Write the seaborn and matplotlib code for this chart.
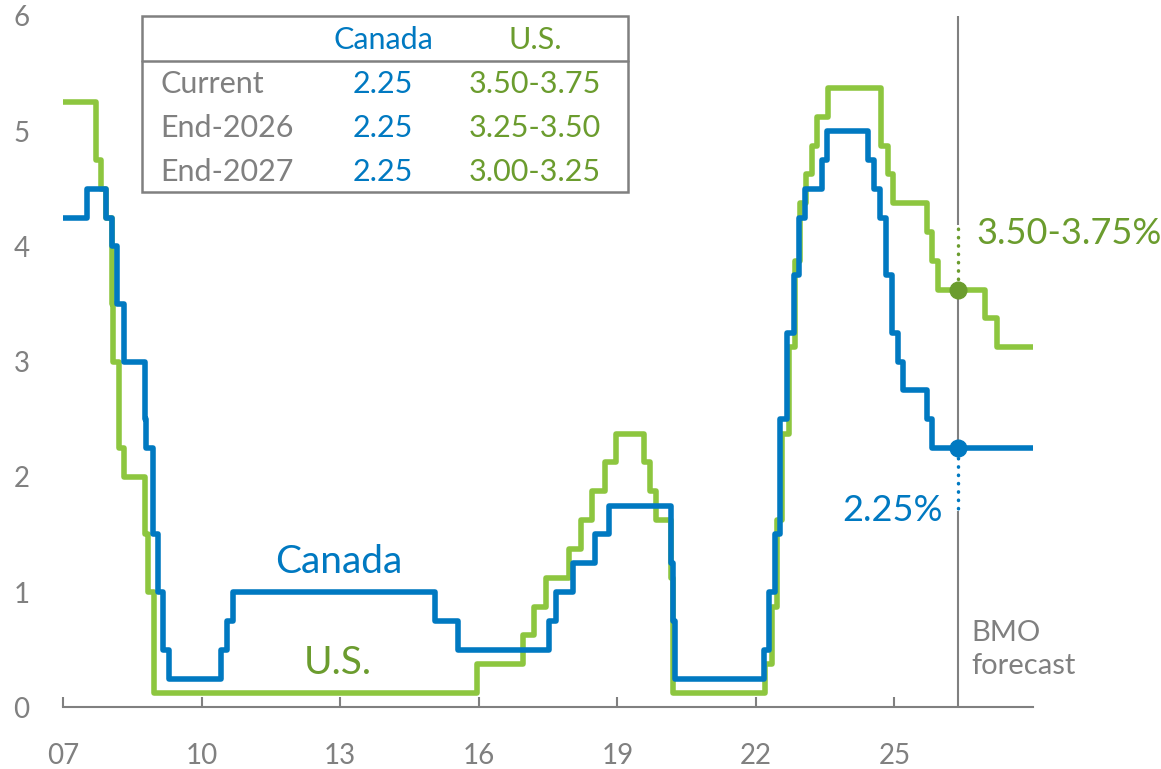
import matplotlib
matplotlib.use("Agg")
import matplotlib.pyplot as plt
import pandas as pd
import seaborn as sns
from matplotlib.lines import Line2D

# --- dados: taxa de política monetária (step), anos decimais ---
can_dates = [2007.0, 2007.52, 2007.92, 2008.06, 2008.17, 2008.31, 2008.77, 2008.8, 2008.94,
             2009.05, 2009.17, 2009.3, 2010.41, 2010.55, 2010.69, 2015.05, 2015.54, 2017.53,
             2017.68, 2018.04, 2018.52, 2018.81, 2020.17, 2020.2, 2020.24, 2022.17, 2022.28,
             2022.42, 2022.53, 2022.68, 2022.82, 2022.93, 2023.07, 2023.43, 2023.53, 2024.43,
             2024.56, 2024.68, 2024.81, 2024.94, 2025.08, 2025.19, 2025.71, 2025.82, 2028.0]
can_rates = [4.25, 4.5, 4.25, 4.0, 3.5, 3.0, 2.5, 2.25, 1.5,
             1.0, 0.5, 0.25, 0.5, 0.75, 1.0, 0.75, 0.5, 0.75,
             1.0, 1.25, 1.5, 1.75, 1.25, 0.75, 0.25, 0.5, 1.0,
             1.5, 2.5, 3.25, 3.75, 4.25, 4.5, 4.75, 5.0, 4.75,
             4.5, 4.25, 3.75, 3.25, 3.0, 2.75, 2.5, 2.25, 2.25]

us_dates = [2007.0, 2007.71, 2007.83, 2007.94, 2008.06, 2008.08, 2008.21, 2008.33, 2008.77,
            2008.83, 2008.96, 2015.96, 2016.95, 2017.2, 2017.45, 2017.95, 2018.22, 2018.45,
            2018.74, 2018.97, 2019.58, 2019.71, 2019.83, 2020.17, 2020.2, 2022.2, 2022.34,
            2022.45, 2022.57, 2022.72, 2022.84, 2022.95, 2023.08, 2023.22, 2023.33, 2023.56,
            2024.71, 2024.85, 2024.96, 2025.71, 2025.82, 2025.94, 2026.95, 2027.21, 2028.0]
us_rates = [5.25, 4.75, 4.5, 4.25, 3.5, 3.0, 2.25, 2.0, 1.5,
            1.0, 0.125, 0.375, 0.625, 0.875, 1.125, 1.375, 1.625, 1.875,
            2.125, 2.375, 2.125, 1.875, 1.625, 1.125, 0.125, 0.375, 0.875,
            1.625, 2.375, 3.125, 3.875, 4.375, 4.625, 4.875, 5.125, 5.375,
            4.875, 4.625, 4.375, 4.125, 3.875, 3.625, 3.375, 3.125, 3.125]

forecast_x = 2026.38
current_can = 2.25
current_us = 3.625

table_cols = ["Canada", "U.S."]
table_rows = ["Current", "End-2026", "End-2027"]
table_can = ["2.25", "2.25", "2.25"]
table_us = ["3.50-3.75", "3.25-3.50", "3.00-3.25"]

x_ticks = [2007, 2010, 2013, 2016, 2019, 2022, 2025]
x_labels = ["07", "10", "13", "16", "19", "22", "25"]

BLUE = "#0079c1"
GREEN = "#8dc63f"
DGREEN = "#6b9c2e"
GRAY = "#808080"

sns.set_theme(style="white")
plt.rcParams['font.family'] = ['Lato', 'DejaVu Sans']

df = pd.concat([
    pd.DataFrame({"ano": us_dates, "taxa": us_rates, "pais": "U.S."}),
    pd.DataFrame({"ano": can_dates, "taxa": can_rates, "pais": "Canada"}),
])

fig = plt.figure(figsize=(11.61, 7.69), dpi=100)
ax = fig.add_axes([0.0543, 0.0802, 0.8355, 0.899])

sns.lineplot(data=df, x="ano", y="taxa", hue="pais", hue_order=["U.S.", "Canada"],
             palette={"U.S.": GREEN, "Canada": BLUE}, estimator=None, legend=False,
             drawstyle="steps-post", linewidth=4, ax=ax)

# linha de previsão (com cortes onde entram os pontilhados)
ax.vlines([forecast_x] * 3, [4.19, 2.32, 0], [6.0, 3.56, 1.70], color=GRAY, lw=1.5, zorder=1)
ax.plot([forecast_x, forecast_x], [3.72, 4.17], color=DGREEN, lw=2.5,
        linestyle=(0, (0.1, 2.3)), dash_capstyle="round", zorder=4)
ax.plot([forecast_x, forecast_x], [2.16, 1.72], color=BLUE, lw=2.5,
        linestyle=(0, (0.1, 2.3)), dash_capstyle="round", zorder=4)
ax.plot([forecast_x], [current_us], "o", color=DGREEN, ms=12, zorder=5)
ax.plot([forecast_x], [current_can], "o", color=BLUE, ms=12, zorder=5)

ax.text(forecast_x + 0.39, 4.11, "3.50-3.75%", color=DGREEN, fontsize=26, va="center", ha="left")
ax.text(forecast_x - 0.33, 1.71, "2.25%", color=BLUE, fontsize=26, va="center", ha="right")
ax.text(forecast_x + 0.29, 0.50, "BMO\nforecast", color=GRAY, fontsize=21, va="center",
        ha="left", linespacing=1.35)
ax.text(2012.97, 1.26, "Canada", color=BLUE, fontsize=28, va="center", ha="center")
ax.text(2012.95, 0.385, "U.S.", color=DGREEN, fontsize=28, va="center", ha="center")

ax.set_xlim(2007, 2028)
ax.set_ylim(0, 6)
ax.set_xticks(x_ticks)
ax.set_xticklabels(x_labels)
ax.set_yticks(range(0, 7))
ax.set_xlabel("")
ax.set_ylabel("")
for s in ["top", "right", "left"]:
    ax.spines[s].set_visible(False)
ax.spines["bottom"].set_color(GRAY)
ax.spines["bottom"].set_linewidth(1.5)
ax.tick_params(axis="x", direction="in", length=7, width=1.5, color=GRAY,
               labelcolor=GRAY, labelsize=20, pad=26, bottom=True)
ax.tick_params(axis="y", length=0, labelcolor=GRAY, labelsize=20, pad=24)

# tabela no canto superior
L, R, T, B, H = 142 / 1161, 628 / 1161, 1 - 16 / 769, 1 - 192 / 769, 1 - 61 / 769
fig.add_artist(plt.Rectangle((L, B), R - L, T - B, transform=fig.transFigure,
                             fill=False, edgecolor=GRAY, lw=1.8))
fig.add_artist(Line2D([L, R], [H, H], transform=fig.transFigure, color=GRAY, lw=1.8))
col_x = [383 / 1161, 535 / 1161]
fig.text(col_x[0], 1 - 40 / 769, table_cols[0], color=BLUE, fontsize=22, ha="center", va="center")
fig.text(col_x[1], 1 - 40 / 769, table_cols[1], color=DGREEN, fontsize=22, ha="center", va="center")
row_y = [84, 128, 172]
for i in range(3):
    y = 1 - row_y[i] / 769
    fig.text(160 / 1161, y, table_rows[i], color=GRAY, fontsize=22, ha="left", va="center")
    fig.text(col_x[0], y, table_can[i], color=BLUE, fontsize=22, ha="center", va="center")
    fig.text(col_x[1], y, table_us[i], color=DGREEN, fontsize=22, ha="center", va="center")

fig.savefig("out.png", dpi=100)
